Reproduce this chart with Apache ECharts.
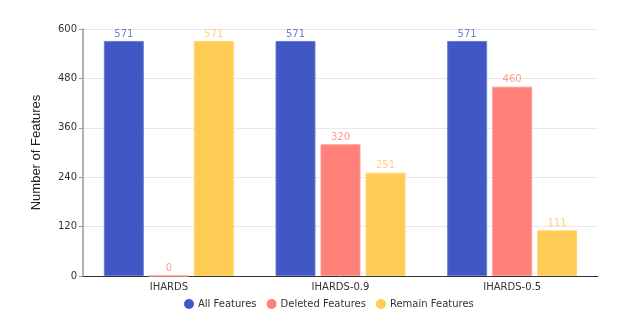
<!DOCTYPE html>
<html>
<head>
<meta charset="utf-8">
<script src="https://cdn.jsdelivr.net/npm/echarts@6/dist/echarts.min.js"></script>
<style>
  html, body { margin: 0; padding: 0; background: #fff; }
  #chart { width: 623px; height: 333px; }
</style>
</head>
<body>
<div id="chart"></div>
<script>
// categories and values
const categories = ["IHARDS", "IHARDS-0.9", "IHARDS-0.5"];
const allFeatures = [571, 571, 571];
const deletedFeatures = [0, 320, 460];
const remainFeatures = [571, 251, 111];
const yTicks = { min: 0, max: 600, interval: 120 };

const chart = echarts.init(document.getElementById("chart"));

function barSeries(name, data, color, border) {
  return {
    name: name,
    type: "bar",
    data: data,
    barWidth: 40,
    barGap: "12.5%",
    itemStyle: { color: color, borderColor: border, borderWidth: 1 },
    label: {
      show: true,
      position: "top",
      distance: 2,
      color: border,
      fontSize: 10,
      fontFamily: "DejaVu Sans"
    }
  };
}

chart.setOption({
  animation: false,
  textStyle: { fontFamily: "DejaVu Sans" },
  grid: { left: 83, right: 25, top: 29, bottom: 57 },
  legend: {
    bottom: 19,
    left: 179,
    icon: "circle",
    itemWidth: 10,
    itemHeight: 10,
    itemGap: 10,
    itemStyle: { borderWidth: 0 },
    textStyle: { fontSize: 10, color: "#333", padding: [0, 0, 0, -1] }
  },
  xAxis: {
    type: "category",
    data: categories,
    axisTick: { show: false },
    axisLine: { lineStyle: { color: "#333" } },
    axisLabel: { fontSize: 10, color: "#333", margin: 6 }
  },
  yAxis: {
    type: "value",
    min: yTicks.min,
    max: yTicks.max,
    interval: yTicks.interval,
    name: "Number of Features",
    nameLocation: "middle",
    nameGap: 40,
    nameTextStyle: { fontSize: 13, color: "#222", fontFamily: "Liberation Sans" },
    axisLine: { show: true, lineStyle: { color: "#999", width: 1.5 } },
    axisTick: { show: true, length: 4, lineStyle: { color: "#999" } },
    axisLabel: { fontSize: 10, color: "#333", margin: 6 },
    splitLine: { lineStyle: { color: "#e8e8e8" } }
  },
  series: [
    barSeries("All Features", allFeatures, "#4157c4", "#6a7ed6"),
    barSeries("Deleted Features", deletedFeatures, "#ff7f79", "#ff9c97"),
    barSeries("Remain Features", remainFeatures, "#ffcc55", "#ffd576")
  ]
});
</script>
</body>
</html>
